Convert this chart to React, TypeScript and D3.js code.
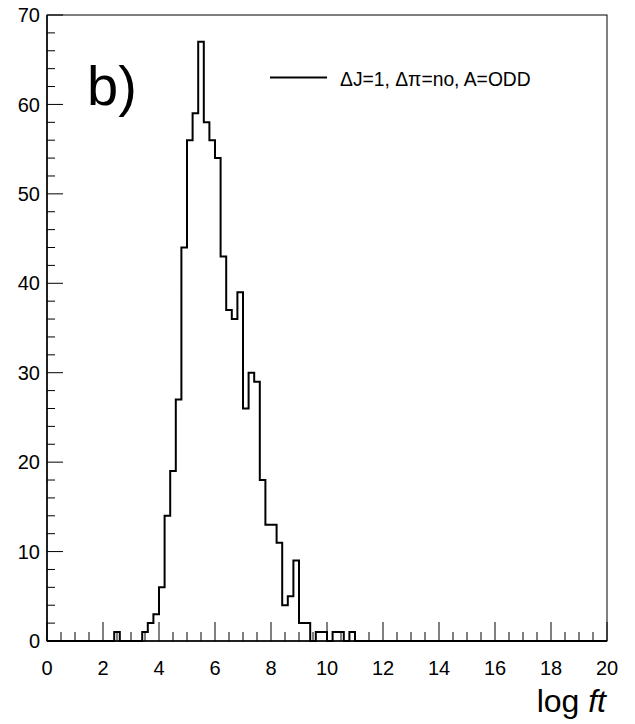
import React from "react";
import * as d3 from "d3";

const binLowEdges = [
  2.4, 2.6, 2.8, 3.0, 3.2, 3.4, 3.6, 3.8, 4.0, 4.2, 4.4, 4.6, 4.8, 5.0, 5.2,
  5.4, 5.6, 5.8, 6.0, 6.2, 6.4, 6.6, 6.8, 7.0, 7.2, 7.4, 7.6, 7.8, 8.0, 8.2,
  8.4, 8.6, 8.8, 9.0, 9.2, 9.4, 9.6, 9.8, 10.0, 10.2, 10.4, 10.6, 10.8,
];
const binCounts = [
  1, 0, 0, 0, 0, 1, 2, 3, 6, 14, 19, 27, 44, 56, 59,
  67, 58, 56, 54, 43, 37, 36, 39, 26, 30, 29, 18, 13, 13, 11,
  4, 5, 9, 2, 2, 0, 1, 1, 0, 1, 1, 0, 1,
];
const binWidth = 0.2;
const xDomain = [0, 20];
const yDomain = [0, 70];
const xMajorTicks = [0, 2, 4, 6, 8, 10, 12, 14, 16, 18, 20];
const yMajorTicks = [0, 10, 20, 30, 40, 50, 60, 70];
const legendLabel = "ΔJ=1, Δπ=no, A=ODD";
const panelLabel = "b)";

const W = 635;
const H = 724;
const FONT = "'Liberation Sans', Arial, Helvetica, sans-serif";

export default function App() {
  const x = d3.scaleLinear().domain(xDomain).range([47, 607]);
  const y = d3.scaleLinear().domain(yDomain).range([641, 15]);

  const nBins = Math.round((xDomain[1] - xDomain[0]) / binWidth);
  const pts: [number, number][] = [];
  for (let i = 0; i < nBins; i++) {
    const lo = +(xDomain[0] + i * binWidth).toFixed(4);
    const idx = binLowEdges.findIndex((e) => Math.abs(e - lo) < 1e-6);
    const c = idx >= 0 ? binCounts[idx] : 0;
    pts.push([lo, c]);
    pts.push([lo + binWidth, c]);
  }
  const line = d3
    .line<[number, number]>()
    .x((d) => x(d[0]))
    .y((d) => y(d[1]));
  const path = line([[xDomain[0], 0], ...pts, [xDomain[1], 0]]) || "";

  const xMinor = d3.range(0, 20.001, 0.5).filter((v) => Math.abs(v / 2 - Math.round(v / 2)) > 1e-6);
  const yMinor = d3.range(0, 70.001, 2).filter((v) => v % 10 !== 0);

  const x0 = x(0);
  const y0 = y(0);

  return (
    <div style={{ position: "absolute", left: 0, top: 0 }}>
      <svg width={W} height={H} style={{ display: "block", background: "#fff" }}>
        <rect x={0} y={0} width={W} height={H} fill="#fff" />
        <rect
          x={x(0)}
          y={y(70)}
          width={x(20) - x(0)}
          height={y(0) - y(70)}
          fill="#fff"
          stroke="#000"
          strokeWidth={1}
        />
        {xMajorTicks.map((t) => (
          <line key={"xM" + t} x1={x(t)} x2={x(t)} y1={y0} y2={y0 - 19} stroke="#000" strokeWidth={1} />
        ))}
        {xMinor.map((t) => (
          <line key={"xm" + t} x1={x(t)} x2={x(t)} y1={y0} y2={y0 - 9} stroke="#000" strokeWidth={1} />
        ))}
        {yMajorTicks.map((t) => (
          <line key={"yM" + t} x1={x0} x2={x0 + 16} y1={y(t)} y2={y(t)} stroke="#000" strokeWidth={1} />
        ))}
        {yMinor.map((t) => (
          <line key={"ym" + t} x1={x0} x2={x0 + 8} y1={y(t)} y2={y(t)} stroke="#000" strokeWidth={1} />
        ))}
        <line x1={x0} x2={x(20)} y1={y0} y2={y0} stroke="#000" strokeWidth={1.5} />
        <line x1={x0} x2={x0} y1={y0} y2={y(70)} stroke="#000" strokeWidth={1.5} />
        <path d={path} fill="none" stroke="#000" strokeWidth={2} strokeLinejoin="miter" />
        {xMajorTicks.map((t) => (
          <text key={"xl" + t} x={x(t)} y={675} fontFamily={FONT} fontSize={20} textAnchor="middle" fill="#000">
            {t}
          </text>
        ))}
        {yMajorTicks.map((t) => (
          <text
            key={"yl" + t}
            x={40}
            y={y(t)}
            dy="0.36em"
            fontFamily={FONT}
            fontSize={20}
            textAnchor="end"
            fill="#000"
          >
            {t}
          </text>
        ))}
        <text x={606} y={712} fontFamily={FONT} fontSize={32} textAnchor="end" fill="#000">
          log <tspan fontStyle="italic">ft</tspan>
        </text>
        <text x={87} y={105} fontFamily={FONT} fontSize={56} fill="#000">
          {panelLabel}
        </text>
        <line x1={270} x2={327} y1={77.5} y2={77.5} stroke="#000" strokeWidth={2} />
        <text x={340} y={86} fontFamily={FONT} fontSize={19.3} fill="#000">
          {legendLabel}
        </text>
      </svg>
    </div>
  );
}
